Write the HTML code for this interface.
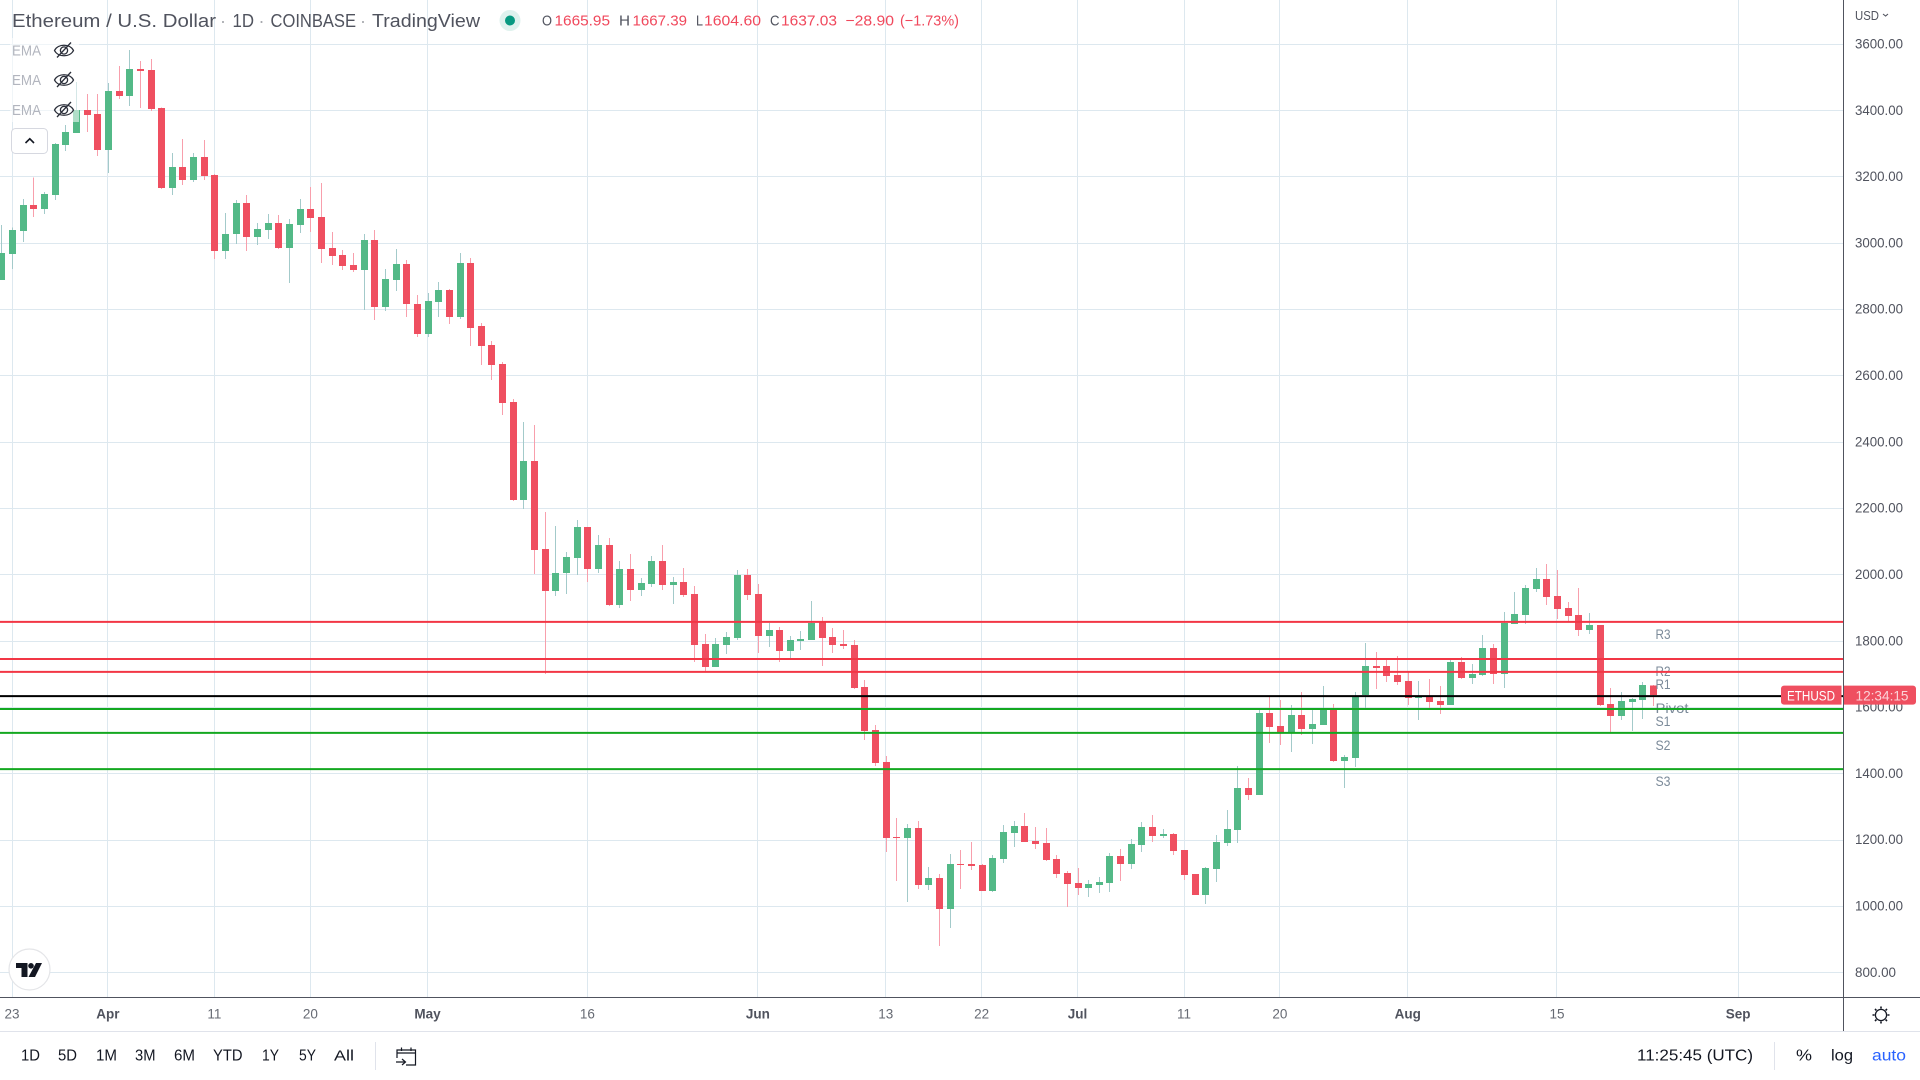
<!DOCTYPE html>
<html lang="en">
<head>
<meta charset="utf-8">
<title>Ethereum / U.S. Dollar - TradingView</title>
<style>
html,body{margin:0;padding:0;background:#fff;width:1920px;height:1080px;overflow:hidden}
svg{display:block;font-family:"Liberation Sans",sans-serif}
.crisp{shape-rendering:crispEdges}
.tb{font-size:16px;fill:#131722;dominant-baseline:central}
.hd{font-size:15px;dominant-baseline:central}
.ttl{font-size:18px;fill:#50535e;dominant-baseline:central}
.red{fill:#f0485c}
.lab{fill:#50535e}
.ema{font-size:15px;fill:#b2b5be;dominant-baseline:central}
</style>
</head>
<body>
<svg id="chart" width="1920" height="1080" viewBox="0 0 1920 1080" xmlns="http://www.w3.org/2000/svg">
  <rect x="0" y="0" width="1920" height="1080" fill="#ffffff"/>
  <g id="grid" class="crisp"></g>
  <g id="candles" class="crisp"></g>
  <g id="levels"></g>
  <g id="y-axis"></g>
  <g id="x-axis"></g>
  <g id="price-tag"></g>

  <g class="crisp">
    <rect x="1843" y="0" width="1" height="1032" fill="#50535e"/>
    <rect x="0" y="997" width="1920" height="1" fill="#50535e"/>
    <rect x="0" y="1031" width="1920" height="1" fill="#e0e3eb"/>
    <rect x="375" y="1042" width="1" height="28" fill="#e0e3eb"/>
    <rect x="1774" y="1042" width="1" height="28" fill="#e0e3eb"/>
  </g>

  <g>
    <g>
      <text class="ttl" x="12" y="21" textLength="204" lengthAdjust="spacingAndGlyphs">Ethereum / U.S. Dollar</text>
      <text class="ttl" x="220" y="21" fill-opacity=".5">·</text>
      <text class="ttl" x="232.5" y="21" textLength="21.5" lengthAdjust="spacingAndGlyphs">1D</text>
      <text class="ttl" x="258.5" y="21" fill-opacity=".5">·</text>
      <text class="ttl" x="270.5" y="21" textLength="85.5" lengthAdjust="spacingAndGlyphs">COINBASE</text>
      <text class="ttl" x="360" y="21" fill-opacity=".5">·</text>
      <text class="ttl" x="372" y="21" textLength="108" lengthAdjust="spacingAndGlyphs">TradingView</text>
    </g>
    <circle cx="510" cy="20.5" r="10.5" fill="#dff2ee"/>
    <circle cx="510" cy="20.5" r="5" fill="#089981"/>
    <g>
      <text class="hd lab" x="542" y="21" textLength="10" lengthAdjust="spacingAndGlyphs">O</text>
      <text class="hd red" x="554.5" y="21" textLength="55.5" lengthAdjust="spacingAndGlyphs">1665.95</text>
      <text class="hd lab" x="619" y="21" textLength="11" lengthAdjust="spacingAndGlyphs">H</text>
      <text class="hd red" x="632.5" y="21" textLength="54.5" lengthAdjust="spacingAndGlyphs">1667.39</text>
      <text class="hd lab" x="696" y="21" textLength="7" lengthAdjust="spacingAndGlyphs">L</text>
      <text class="hd red" x="704" y="21" textLength="57" lengthAdjust="spacingAndGlyphs">1604.60</text>
      <text class="hd lab" x="770" y="21" textLength="9.5" lengthAdjust="spacingAndGlyphs">C</text>
      <text class="hd red" x="781" y="21" textLength="56" lengthAdjust="spacingAndGlyphs">1637.03</text>
      <text class="hd red" x="845.5" y="21" textLength="48.5" lengthAdjust="spacingAndGlyphs">−28.90</text>
      <text class="hd red" x="900" y="21" textLength="59" lengthAdjust="spacingAndGlyphs">(−1.73%)</text>
    </g>
    <rect x="10" y="38" width="69" height="84" fill="#ffffff" fill-opacity=".55"/>
    <g>
      <text class="ema" x="12" y="51" textLength="29" lengthAdjust="spacingAndGlyphs">EMA</text>
      <g transform="translate(64,50.5)" fill="none" stroke="#2a2e39" stroke-width="1.3">
        <path d="M-9.5 0C-6 -7 6 -7 9.5 0C6 7 -6 7 -9.5 0Z"/><circle r="3.6"/><path d="M-7 7L7 -8"/>
      </g>
    </g>
    <g>
      <text class="ema" x="12" y="80.5" textLength="29" lengthAdjust="spacingAndGlyphs">EMA</text>
      <g transform="translate(64,80)" fill="none" stroke="#2a2e39" stroke-width="1.3">
        <path d="M-9.5 0C-6 -7 6 -7 9.5 0C6 7 -6 7 -9.5 0Z"/><circle r="3.6"/><path d="M-7 7L7 -8"/>
      </g>
    </g>
    <g>
      <text class="ema" x="12" y="110.5" textLength="29" lengthAdjust="spacingAndGlyphs">EMA</text>
      <g transform="translate(64,110)" fill="none" stroke="#2a2e39" stroke-width="1.3">
        <path d="M-9.5 0C-6 -7 6 -7 9.5 0C6 7 -6 7 -9.5 0Z"/><circle r="3.6"/><path d="M-7 7L7 -8"/>
      </g>
    </g>
    <g>
      <rect x="11.5" y="128.5" width="36" height="25" rx="4" fill="#fff" stroke="#d6d8e0"/>
      <path d="M25.5 143L29.8 138.8L34 143" fill="none" stroke="#131722" stroke-width="1.6"/>
    </g>
  </g>

  <g>
    <circle cx="29.5" cy="969.5" r="20.5" fill="#fff" stroke="#e4e5e8" stroke-width="1.2"/>
    <path fill="#131722" d="M16 963H27.5V977H21.5V968H16Z"/>
    <circle cx="31" cy="965.8" r="2.8" fill="#131722"/>
    <path fill="#131722" d="M36 963H42L35 977H28.5Z"/>
  </g>

  <g>
    <text class="tb" x="21" y="1056" textLength="19" lengthAdjust="spacingAndGlyphs">1D</text>
    <text class="tb" x="58" y="1056" textLength="19" lengthAdjust="spacingAndGlyphs">5D</text>
    <text class="tb" x="96" y="1056" textLength="21" lengthAdjust="spacingAndGlyphs">1M</text>
    <text class="tb" x="135" y="1056" textLength="20.5" lengthAdjust="spacingAndGlyphs">3M</text>
    <text class="tb" x="174" y="1056" textLength="21" lengthAdjust="spacingAndGlyphs">6M</text>
    <text class="tb" x="213" y="1056" textLength="29.5" lengthAdjust="spacingAndGlyphs">YTD</text>
    <text class="tb" x="262" y="1056" textLength="17" lengthAdjust="spacingAndGlyphs">1Y</text>
    <text class="tb" x="299" y="1056" textLength="17" lengthAdjust="spacingAndGlyphs">5Y</text>
    <text class="tb" x="334" y="1056" textLength="20" lengthAdjust="spacingAndGlyphs" style="font-size:15px">All</text>
    <g fill="none" stroke="#131722" stroke-width="1.2">
      <path d="M397 1058V1050H415.5V1065H406"/><path d="M397 1053H415.5"/><path d="M401.5 1047.5V1051M411 1047.5V1051"/><path d="M396 1062H405M402 1059L405.5 1062L402 1065"/>
    </g>
    <text class="tb" x="1637" y="1056" textLength="116" lengthAdjust="spacingAndGlyphs">11:25:45 (UTC)</text>
    <text class="tb" x="1796" y="1056" textLength="16" lengthAdjust="spacingAndGlyphs">%</text>
    <text class="tb" x="1831" y="1056" textLength="22" lengthAdjust="spacingAndGlyphs">log</text>
    <text class="tb" x="1872" y="1056" textLength="34" lengthAdjust="spacingAndGlyphs" style="fill:#2962ff">auto</text>
  </g>

  <g fill="none" stroke="#131722">
    <circle cx="1881" cy="1015" r="5.6" stroke-width="1.3"/>
    <path stroke-width="1.6" d="M1881 1006.5V1008.5M1881 1021.5V1023.5M1872.5 1015H1874.5M1887.5 1015H1889.5M1875 1009L1876.4 1010.4M1885.6 1019.6L1887 1021M1875 1021L1876.4 1019.6M1885.6 1010.4L1887 1009"/>
  </g>

  <g>
    <text x="1855" y="16" font-size="12.5" fill="#50535e" dominant-baseline="central" textLength="24" lengthAdjust="spacingAndGlyphs">USD</text>
    <path d="M1883 14L1885.6 16L1888 14" fill="none" stroke="#50535e" stroke-width="1.1"/>
  </g>
</svg>

<script>
// Data. Each array holds one daily bar, oldest first.
const firstBarDate = '2022-03-22';
const opens = [2889,2968,3037,3115,3103,3146,3296,3333,3402,3390,3281,3459,3444,3526,3523,3408,3167,3230,3191,3260,3206,2977,3028,3121,3019,3040,3061,2986,3055,3103,3079,2986,2965,2934,2919,3010,2808,2889,2937,2817,2726,2823,2859,2778,2940,2750,2693,2636,2521,2226,2343,2078,1951,2005,2051,2144,2017,2090,1909,2017,1954,1972,2042,1969,1978,1942,1791,1722,1788,1809,2000,1942,1815,1834,1770,1800,1803,1858,1812,1791,1788,1662,1532,1435,1209,1206,1236,1064,1086,992,1128,1128,1125,1046,1143,1221,1242,1197,1191,1143,1101,1070,1055,1064,1070,1152,1128,1185,1239,1212,1218,1170,1098,1034,1113,1191,1230,1357,1336,1583,1544,1523,1577,1535,1547,1595,1438,1448,1637,1725,1725,1698,1680,1628,1632,1619,1607,1737,1689,1698,1779,1701,1852,1879,1957,1987,1936,1900,1879,1834,1849,1610,1574,1616,1622,1665.95];
const highs = [3055,3048,3134,3198,3155,3302,3357,3486,3450,3450,3483,3535,3583,3550,3556,3410,3272,3314,3272,3311,3209,3091,3131,3146,3061,3088,3085,3073,3134,3170,3182,3034,2980,2971,3028,3040,2922,2983,2949,2844,2850,2883,2862,2971,2955,2759,2705,2642,2530,2461,2452,2189,2147,2069,2165,2144,2120,2111,2042,2063,1990,2057,2090,1993,2020,1966,1821,1809,1827,2014,2017,1972,1855,1843,1815,1830,1921,1873,1840,1834,1803,1683,1547,1453,1267,1248,1257,1119,1098,1158,1170,1194,1128,1155,1245,1257,1282,1239,1236,1155,1107,1116,1080,1089,1161,1173,1203,1254,1276,1233,1221,1170,1098,1119,1215,1291,1423,1387,1592,1631,1622,1607,1647,1592,1665,1610,1457,1647,1794,1767,1743,1755,1707,1680,1686,1665,1743,1752,1731,1818,1791,1888,1948,1969,2021,2033,2015,1918,1960,1885,1849,1659,1647,1628,1677,1667.39];
const lows = [2889,2922,3004,3079,3088,3131,3278,3333,3336,3263,3212,3435,3414,3408,3399,3164,3146,3176,3185,3191,2953,2953,2998,2977,2995,3013,2983,2880,3031,3034,2940,2934,2919,2913,2799,2769,2796,2856,2778,2717,2717,2778,2756,2772,2690,2633,2588,2482,2223,2198,2002,1701,1936,1942,2000,1978,2005,1906,1900,1921,1936,1963,1954,1912,1933,1737,1709,1722,1761,1803,1924,1764,1782,1737,1746,1773,1803,1725,1764,1776,1656,1502,1423,1164,1076,1013,1052,1049,880,935,1052,1110,1046,1043,1131,1179,1194,1173,1137,1086,998,1034,1028,1040,1043,1077,1113,1164,1194,1206,1155,1080,1034,1007,1074,1182,1191,1321,1336,1493,1487,1466,1517,1490,1547,1435,1357,1420,1598,1656,1677,1668,1607,1562,1598,1580,1607,1686,1671,1695,1671,1659,1852,1852,1948,1909,1867,1861,1815,1821,1604,1526,1562,1529,1565,1604.60];
const closes = [2970,3040,3115,3103,3149,3299,3336,3402,3387,3281,3459,3444,3526,3520,3405,3167,3230,3191,3260,3203,2977,3028,3121,3019,3043,3061,2986,3058,3103,3076,2983,2962,2931,2919,3010,2808,2892,2937,2817,2726,2826,2859,2778,2940,2744,2690,2633,2518,2226,2343,2075,1951,2005,2054,2144,2017,2090,1909,2017,1954,1975,2042,1969,1978,1939,1788,1722,1791,1812,2000,1939,1815,1834,1770,1803,1806,1855,1809,1788,1785,1659,1529,1432,1206,1206,1236,1064,1086,992,1128,1125,1122,1046,1146,1224,1242,1194,1188,1140,1098,1068,1055,1068,1074,1152,1128,1188,1239,1212,1218,1167,1095,1034,1116,1194,1233,1357,1336,1583,1541,1526,1577,1535,1550,1595,1438,1451,1632,1725,1719,1695,1677,1628,1632,1616,1607,1737,1689,1701,1779,1701,1855,1882,1960,1987,1933,1897,1876,1834,1849,1607,1574,1619,1625,1668,1637.03];

const priceTicks = ['3600.00','3400.00','3200.00','3000.00','2800.00','2600.00','2400.00','2200.00','2000.00','1800.00','1600.00','1400.00','1200.00','1000.00','800.00'];
const dateTickDates = ['2022-03-23','2022-04-01','2022-04-11','2022-04-20','2022-05-01','2022-05-16','2022-06-01','2022-06-13','2022-06-22','2022-07-01','2022-07-11','2022-07-20','2022-08-01','2022-08-15','2022-09-01'];
const dateTickLabels = ['23','Apr','11','20','May','16','Jun','13','22','Jul','11','20','Aug','15','Sep'];
const levelNames = ['R3','R2','R1','Pivot','S1','S2','S3'];
const levelPrices = [1858,1746,1707,1634,1595,1523,1414];

// Axis functions
const SVGNS = 'http://www.w3.org/2000/svg';
const yScale = function (price) { return 44.3 + (3600 - price) * 0.33155; };
const xIndex = function (i) { return 1.345 + i * 10.655; };
const xDate = function (dateString) {
  const days = (Date.parse(dateString + 'T00:00:00Z') - Date.parse(firstBarDate + 'T00:00:00Z')) / 86400000;
  return xIndex(days);
};
function make(tag, attrs, parent) {
  const node = document.createElementNS(SVGNS, tag);
  Object.keys(attrs).forEach(function (k) { node.setAttribute(k, attrs[k]); });
  parent.appendChild(node);
  return node;
}

const gridG = document.getElementById('grid');
const candleG = document.getElementById('candles');
const levelG = document.getElementById('levels');
const yAxisG = document.getElementById('y-axis');
const xAxisG = document.getElementById('x-axis');
const tagG = document.getElementById('price-tag');

// Horizontal grid and price tick labels
priceTicks.forEach(function (label) {
  const y = yScale(parseFloat(label));
  const line = make('rect', {x: 0, y: Math.floor(y), width: 1843, height: 1, fill: '#dde8ef'}, gridG);
  
  
  const tick = make('text', {x: 1855, y: y - 0.8, 'font-size': 14, fill: '#50535e', 'dominant-baseline': 'central', textLength: label.length === 7 ? 48 : 41, lengthAdjust: 'spacingAndGlyphs'}, yAxisG);
  
  
  tick.textContent = label;
});

// Vertical grid and date tick labels
dateTickDates.forEach(function (d, i) {
  const x = xDate(d);
  const label = dateTickLabels[i];
  const isMonth = /[A-Za-z]/.test(label);
  const line = make('rect', {x: Math.floor(x), y: 0, width: 1, height: 997, fill: '#dde8ef'}, gridG);
  
  
  const tick = make('text', {x: x, y: 1014, 'font-size': 13.5, fill: isMonth ? '#50535e' : '#666a73', 'font-weight': isMonth ? 'bold' : 'normal', 'text-anchor': 'middle', 'dominant-baseline': 'central'}, xAxisG);
  
  
  tick.textContent = label;
});

// Candles
closes.forEach(function (close, i) {
  const up = close >= opens[i];
  const x = Math.round(xIndex(i));
  const top = yScale(Math.max(opens[i], close));
  const bottom = yScale(Math.min(opens[i], close));
  const high = yScale(highs[i]);
  const low = yScale(lows[i]);
  const wick = make('rect', {x: x, y: high, width: 1, height: Math.max(low - high, 1), fill: up ? '#a3caca' : '#f89fac'}, candleG);
  
  
  const body = make('rect', {x: x - 3, y: top, width: 7, height: Math.max(bottom - top, 1), fill: up ? '#53b987' : '#ef4f60'}, candleG);
  
  
});

// Pivot levels and their labels
levelNames.forEach(function (name, i) {
  const y = yScale(levelPrices[i]);
  const stroke = name.charAt(0) === 'R' ? '#f23645' : (name === 'Pivot' ? '#000000' : '#14a821');
  const line = make('line', {x1: 0, x2: 1843, y1: y, y2: y, stroke: stroke, 'stroke-width': 2}, levelG);
  
  
  const text = make('text', {x: xIndex(closes.length - 1) + 2.6, y: y + 12, 'font-size': 14, fill: '#7b8a99', 'dominant-baseline': 'central', textLength: name === 'Pivot' ? 33 : 15, lengthAdjust: 'spacingAndGlyphs'}, levelG);
  
  
  text.textContent = name;
});

// Last price tag
const tagY = yScale(closes[closes.length - 1]);
const symbolBox = make('path', {d: 'M1841.5 ' + (tagY - 9.5) + 'V' + (tagY + 9.5) + 'H1784a3 3 0 0 1 -3 -3V' + (tagY - 6.5) + 'a3 3 0 0 1 3 -3Z', fill: '#ef4f60'}, tagG);


const timeBox = make('path', {d: 'M1843.5 ' + (tagY - 9.5) + 'H1913a3 3 0 0 1 3 3V' + (tagY + 6.5) + 'a3 3 0 0 1 -3 3H1843.5Z', fill: '#ef4f60'}, tagG);


const symbolText = make('text', {x: 1811, y: tagY + 0.5, 'font-size': 14, fill: '#ffffff', 'text-anchor': 'middle', 'dominant-baseline': 'central', textLength: 48, lengthAdjust: 'spacingAndGlyphs'}, tagG);


symbolText.textContent = 'ETHUSD';
const timeText = make('text', {x: 1882, y: tagY + 0.5, 'font-size': 14, fill: '#ffffff', 'fill-opacity': '.75', 'text-anchor': 'middle', 'dominant-baseline': 'central', textLength: 53, lengthAdjust: 'spacingAndGlyphs'}, tagG);


timeText.textContent = '12:34:15';
</script>
</body>
</html>
